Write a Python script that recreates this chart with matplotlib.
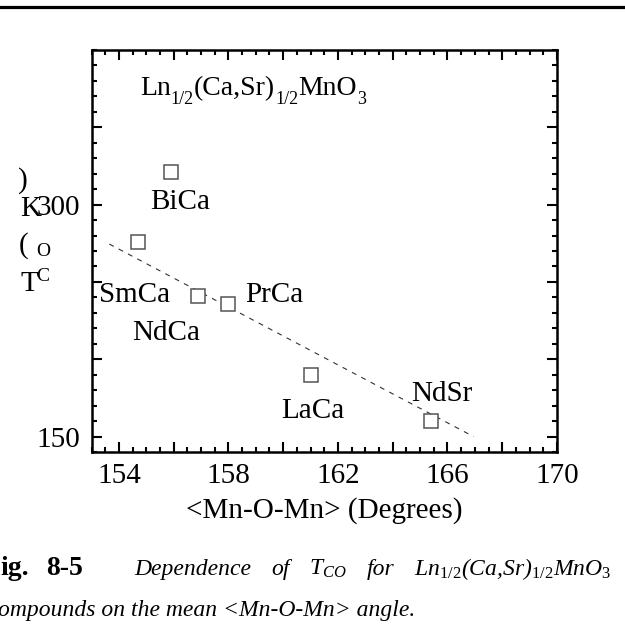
import matplotlib
matplotlib.use("Agg")
import matplotlib.pyplot as plt
from matplotlib.lines import Line2D
from matplotlib.ticker import MultipleLocator, FixedLocator, FixedFormatter

plt.rcParams['font.family'] = ['Liberation Serif', 'DejaVu Serif']
plt.rcParams['mathtext.fontset'] = 'custom'
plt.rcParams['mathtext.rm'] = 'Liberation Serif'
plt.rcParams['mathtext.it'] = 'Liberation Serif:italic'
plt.rcParams['mathtext.bf'] = 'Liberation Serif:bold'

# Mean Mn-O-Mn bond angle (degrees) and charge-ordering temperature T_CO (K)
compounds = ['BiCa', 'SmCa', 'NdCa', 'PrCa', 'LaCa', 'NdSr']
angle = [155.9, 154.7, 156.9, 158.0, 161.0, 165.4]
t_co = [321, 276, 241, 236, 190, 160]

# Dashed trend line end points
trend_angle = [153.65, 166.95]
trend_tco = [274.5, 150.0]

x_ticks = [154, 156, 158, 160, 162, 164, 166, 168, 170]
x_tick_labels = ['154', '', '158', '', '162', '', '166', '', '170']
y_ticks = [150, 200, 250, 300, 350]
y_tick_labels = ['150', '', '', '300', '']

W, H = 625, 642
fig = plt.figure(figsize=(W / 100, H / 100), dpi=100)
renderer = fig.canvas.get_renderer()


def fx(px):
    return px / W


def fy(py):
    return 1 - py / H


def text_run(x0, y0, pieces, **kw):
    """Place pieces of text one after another on a shared baseline (pixels).
    Each piece is (string, fontsize, baseline shift in pixels)."""
    x = x0
    for s, size, dy in pieces:
        t = fig.text(fx(x), fy(y0 - dy), s, fontsize=size, ha='left',
                     va='baseline', **kw)
        x += t.get_window_extent(renderer).width


def justified(x0, x1, y0, words, **kw):
    """Spread words evenly between x0 and x1 (pixels) on baseline y0."""
    texts = [fig.text(0, fy(y0), w, ha='left', va='baseline', **kw) for w in words]
    widths = [t.get_window_extent(renderer).width for t in texts]
    gap = (x1 - x0 - sum(widths)) / (len(words) - 1)
    x = x0
    for t, w in zip(texts, widths):
        t.set_x(fx(x))
        x += w + gap


ax = fig.add_axes([fx(91.5), fy(452), fx(557) - fx(91.5), fy(50) - fy(452)])
ax.set_xlim(153, 170)
ax.set_ylim(140, 400)

ax.plot(trend_angle, trend_tco, linestyle=(0, (4.5, 5)), color='#333333',
        linewidth=0.8)
ax.plot(angle, t_co, linestyle='none', marker='s', markersize=10,
        markerfacecolor='white', markeredgecolor='#555555', markeredgewidth=1.1)

# label offsets (points) relative to each marker
offsets = {
    'BiCa': (6.5, -19.5),
    'SmCa': (-2.7, -36),
    'NdCa': (-23, -24.5),
    'PrCa': (33, 8),
    'LaCa': (1.5, -24),
    'NdSr': (7.5, 22),
}
for name, xv, yv in zip(compounds, angle, t_co):
    ax.annotate(name, (xv, yv), xytext=offsets[name], textcoords='offset points',
                ha='center', va='center_baseline', fontsize=21)

for s in ax.spines.values():
    s.set_linewidth(1.8)

ax.xaxis.set_major_locator(FixedLocator(x_ticks))
ax.xaxis.set_major_formatter(FixedFormatter(x_tick_labels))
ax.xaxis.set_minor_locator(MultipleLocator(0.5))
ax.yaxis.set_major_locator(FixedLocator(y_ticks))
ax.yaxis.set_major_formatter(FixedFormatter(y_tick_labels))
ax.yaxis.set_minor_locator(MultipleLocator(10))

ax.tick_params(which='both', direction='in', top=True, right=True, width=1.5)
ax.tick_params(which='major', length=7, labelsize=21, pad=8)
ax.tick_params(which='minor', length=3.6)

ax.set_xlabel('<Mn-O-Mn> (Degrees)', fontsize=21, labelpad=6)

# formula inside the frame, with low-set subscripts
text_run(140, 95, [('Ln', 20, 0), ('1/2', 13, -9), ('(Ca,Sr)', 20, 0),
                   ('1/2', 13, -9), ('MnO', 20, 0), ('3', 13, -9)])

# stacked y-axis label characters
ylab_parts = [
    (')', 23, 181, 21),
    ('K', 31, 209, 21),
    ('(', 24, 246, 21),
    ('O', 43, 252, 14),
    ('T', 29, 284, 21),
    ('C', 43, 276, 14),
]
for ch, px, py, size in ylab_parts:
    fig.text(fx(px), fy(py), ch, ha='center', va='center', fontsize=size)

# rule across the top of the page
fig.add_artist(Line2D([0, 1], [fy(7), fy(7)], color='black', linewidth=2.3))

# caption
fig.text(fx(0), fy(575), 'ig.', fontsize=20, fontweight='bold', ha='left',
         va='baseline')
fig.text(fx(46), fy(575), '8-5', fontsize=20, fontweight='bold', ha='left',
         va='baseline')
justified(134, 612, 575,
          ['Dependence', 'of', r'$T_{CO}$', 'for',
           r'Ln$_{\mathit{1/2}}$(Ca,Sr)$_{\mathit{1/2}}$MnO$_{\mathit{3}}$'],
          fontsize=17, fontstyle='italic')
fig.text(fx(-2), fy(616), 'ompounds on the mean <Mn-O-Mn> angle.', fontsize=17,
         fontstyle='italic', ha='left', va='baseline')

fig.savefig('out.png', dpi=100)
